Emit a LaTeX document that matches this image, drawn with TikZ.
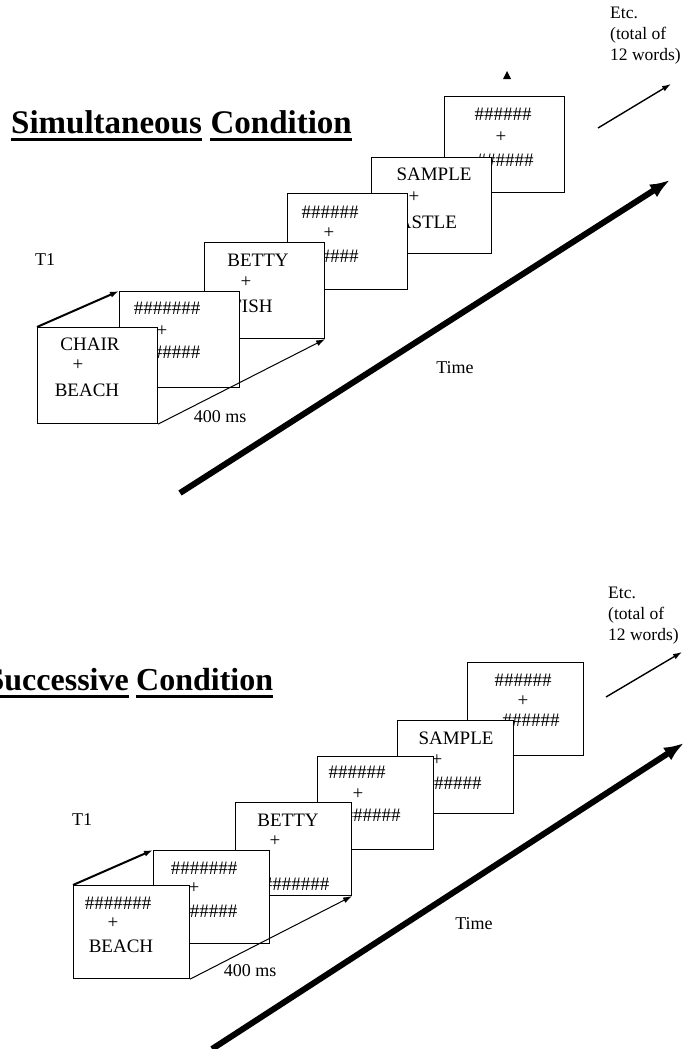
\documentclass[tikz,border=0pt]{standalone}
\usepackage{fontspec}
\setmainfont{Liberation Serif}
\usetikzlibrary{arrows.meta,calc}

\begin{document}
\begin{tikzpicture}[x=1pt, y=-1pt,
    slide/.style={draw, fill=white, line width=1.1pt, minimum width=120pt,
                  minimum height=96pt, inner sep=0pt, anchor=north west},
    sslide/.style={slide, minimum width=116pt, minimum height=93pt},
    word/.style={inner sep=0pt, font=\fontsize{19}{21}\selectfont},
    note/.style={inner sep=0pt, font=\fontsize{18}{20}\selectfont},
    etc/.style={inner sep=0pt, anchor=north west, align=left,
                font=\fontsize{17.5}{21}\selectfont},
    heading/.style={inner sep=0pt, font=\fontsize{33}{36}\selectfont\bfseries},
    sheading/.style={heading, font=\fontsize{32}{35}\selectfont\bfseries},
    uline/.style={line width=3pt},
    flow/.style={-{Latex[length=9pt,width=6pt]}, line width=1pt},
    timeline/.style={-{Latex[length=20pt,width=15pt]}, line width=6pt}
]
    \useasboundingbox (0,0) rectangle (684,1049);

    % ---------- Simultaneous condition ----------
    \node[heading, anchor=base west] (simword) at (11,133) {Simultaneous};
    \node[heading, anchor=base east] (condA) at (352,133) {Condition};
    \draw[uline] ($(simword.base west)+(0,6)$) -- ($(simword.base east)+(0,6)$);
    \draw[uline] ($(condA.base west)+(0,6)$) -- ($(condA.base east)+(0,6)$);

    \node[etc] (etcA) at (610,7) {Etc.\\(total of\\12 words)};
    \coordinate (etcA0) at (598,128);
    \coordinate (etcA1) at (671,84);
    \draw[flow, line width=1.4pt] (etcA0) -- (etcA1);
    \fill (507,71) -- (511,79) -- (503,79) -- cycle;

    \coordinate (timeA0) at (180,493);
    \coordinate (timeA1) at (670,180);
    \draw[timeline] (timeA0) -- (timeA1);
    \node[note] (timeA) at (455,368) {Time};

    % slides, back to front
    \node[slide] (a6) at (444,96) {};
    \node[word] at (503,114) {\#\#\#\#\#\#};
    \node[word] at (501,137) {+};
    \node[word] at (505,160) {\#\#\#\#\#\#};

    \node[slide] (a5) at (371,157) {};
    \node[word] at (434,174) {SAMPLE};
    \node[word] at (414,197) {+};
    \node[word] at (421,222) {CASTLE};

    \node[slide] (a4) at (287,193) {};
    \node[word] at (330,212) {\#\#\#\#\#\#};
    \node[word] at (329,233) {+};
    \node[word] at (330,256) {\#\#\#\#\#\#};

    \node[slide] (a3) at (204,242) {};
    \node[word] at (258,260) {BETTY};
    \node[word] at (246,282) {+};
    \node[word] at (252,306) {FISH};

    \node[slide] (a2) at (119,291) {};
    \node[word] at (167,308) {\#\#\#\#\#\#\#};
    \node[word] at (162,331) {+};
    \node[word] at (167,352) {\#\#\#\#\#\#\#};

    \node[slide] (a1) at (37,327) {};
    \node[word] at (90,344) {CHAIR};
    \node[word] at (78,365) {+};
    \node[word] at (87,390) {BEACH};

    \node[note] (t1A) at (45,260) {T1};
    \node[note] (msA) at (220,417) {400 ms};
    \draw[flow, line width=2pt] (a1.north west) -- (a2.north west);
    \draw[flow] (a1.south east) -- (a3.south east);

    % ---------- Successive condition ----------
    \node[sheading, anchor=base east] (sucword) at (129,690) {Successive};
    \node[sheading, anchor=base west] (condB) at (136,690) {Condition};
    \draw[uline] ($(sucword.base west)+(0,6)$) -- ($(sucword.base east)+(0,6)$);
    \draw[uline] ($(condB.base west)+(0,6)$) -- ($(condB.base east)+(0,6)$);

    \node[etc] (etcB) at (608,587) {Etc.\\(total of\\12 words)};
    \coordinate (etcB0) at (606,697);
    \coordinate (etcB1) at (682,652);
    \draw[flow, line width=1.4pt] (etcB0) -- (etcB1);

    \coordinate (timeB0) at (212,1049);
    \coordinate (timeB1) at (684,743);
    \draw[timeline] (timeB0) -- (timeB1);
    \node[note] (timeB) at (474,924) {Time};

    \node[sslide] (b6) at (467,662) {};
    \node[word] at (523,680) {\#\#\#\#\#\#};
    \node[word] at (523,701) {+};
    \node[word] at (531,720) {\#\#\#\#\#\#};

    \node[sslide] (b5) at (397,720) {};
    \node[word] at (456,738) {SAMPLE};
    \node[word] at (437,760) {+};
    \node[word] at (453,783) {\#\#\#\#\#\#};

    \node[sslide] (b4) at (317,756) {};
    \node[word] at (357,772) {\#\#\#\#\#\#};
    \node[word] at (358,794) {+};
    \node[word] at (372,815) {\#\#\#\#\#\#};

    \node[sslide] (b3) at (235,802) {};
    \node[word] at (288,820) {BETTY};
    \node[word] at (275,841) {+};
    \node[word] at (296,884) {\#\#\#\#\#\#\#};

    \node[sslide] (b2) at (153,850) {};
    \node[word] at (204,868) {\#\#\#\#\#\#\#};
    \node[word] at (194,888) {+};
    \node[word] at (204,911) {\#\#\#\#\#\#\#};

    \node[sslide] (b1) at (73,885) {};
    \node[word] at (118,903) {\#\#\#\#\#\#\#};
    \node[word] at (113,923) {+};
    \node[word] at (121,946) {BEACH};

    \node[note] (t1B) at (82,820) {T1};
    \node[note] (msB) at (250,971) {400 ms};
    \draw[flow, line width=2pt] (b1.north west) -- (b2.north west);
    \draw[flow] (b1.south east) -- (b3.south east);
\end{tikzpicture}
\end{document}
